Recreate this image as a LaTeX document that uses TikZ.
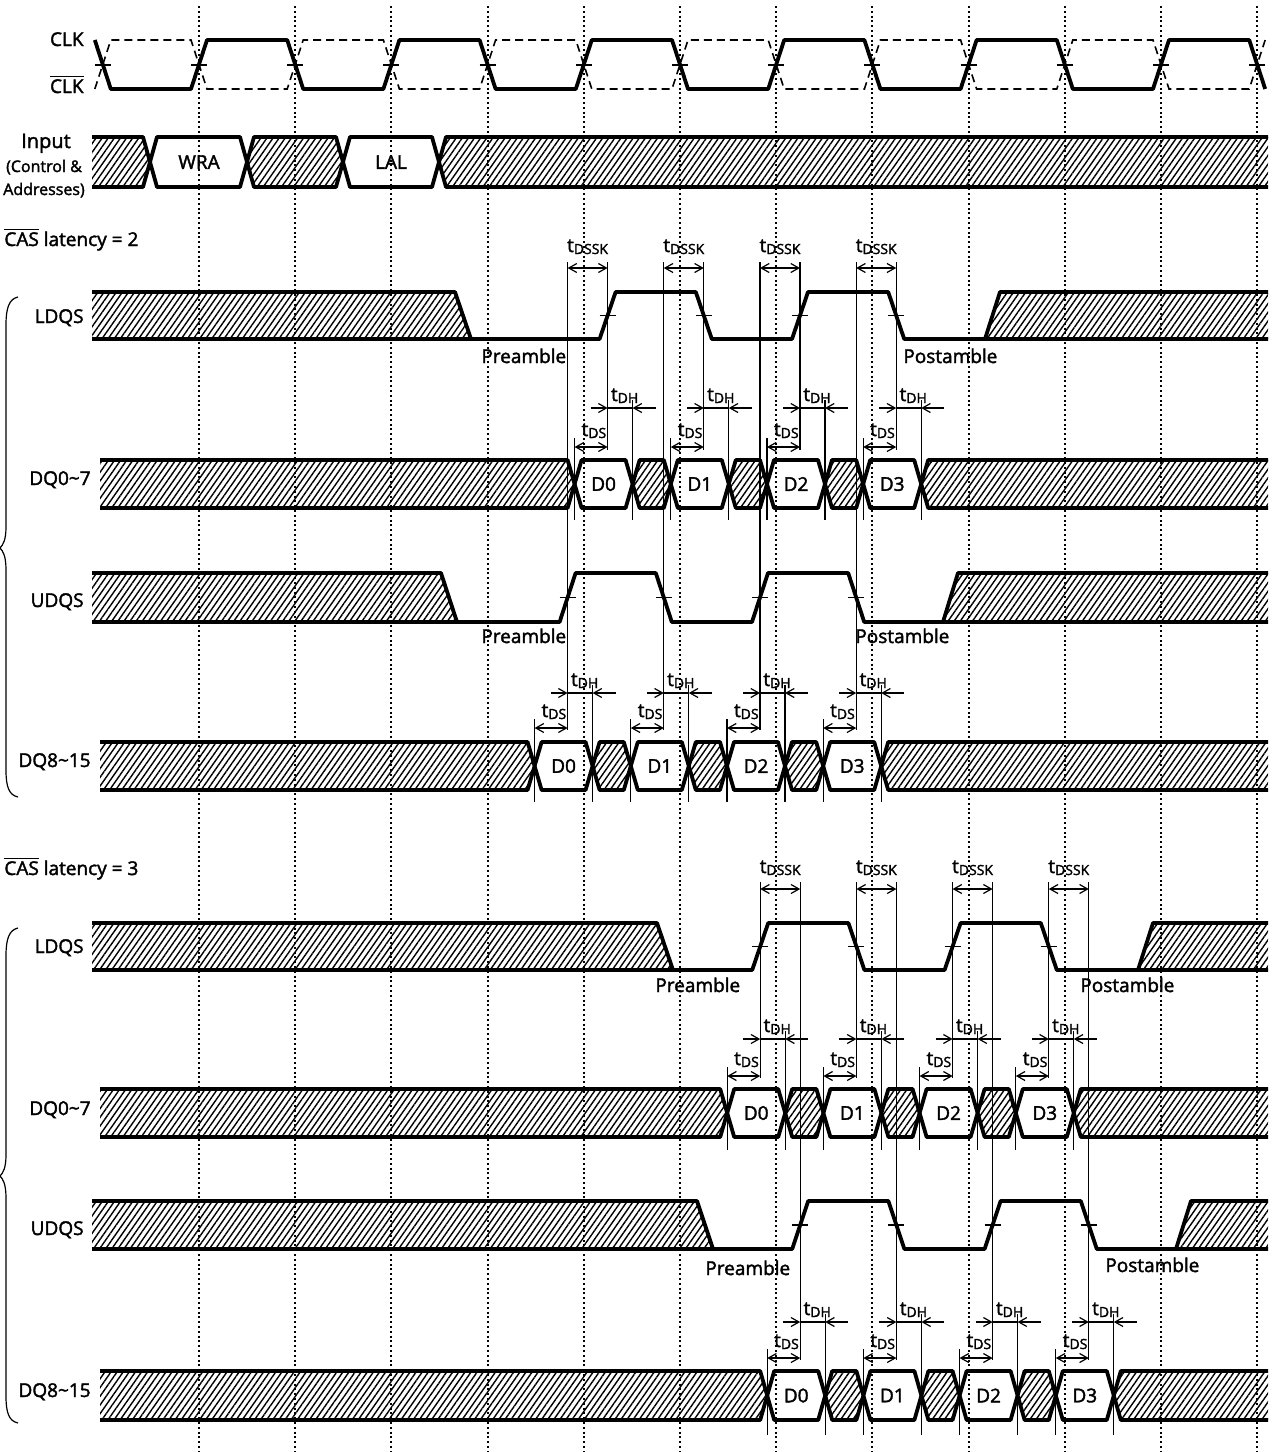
\documentclass[tikz,border=0pt]{standalone}
\usepackage{fontspec}
\setmainfont{Open Sans}[FakeBold=2]
\usetikzlibrary{arrows.meta,patterns.meta}

\newcommand\tsub[1]{t\raisebox{-1pt}{\fontsize{7}{7}\selectfont #1}}
\newcommand\ovl[1]{$\overline{\hbox{#1}}$}

\tikzset{
  sig/.style={line width=1.9pt, line join=round},
  hatch/.style={pattern={Lines[angle=55,distance=2.5pt,line width=0.7pt]}},
  grid line/.style={line width=1pt, dash pattern=on 1pt off 1.4pt},
  timing line/.style={line width=0.6pt},
  clk solid/.style={line width=1.9pt, line join=round},
  clk dashed/.style={line width=0.8pt, dash pattern=on 4pt off 2.5pt},
  clk tick/.style={line width=1pt},
  dqs tick/.style={line width=0.8pt},
  every node/.style={inner sep=0pt, font=\fontsize{9.5}{11}\selectfont},
}

% strobe: #1 top, #2 bottom, #3 end of leading hatch, #4 first edge, #5 start of trailing hatch
\newcommand\dqswave[5]{%
  \pgfmathsetmacro\ym{(#1+#2)/2}
  \fill[hatch] (92,#1) -- (#3,#1) -- ({#3+16},#2) -- (92,#2) -- cycle;
  \fill[hatch] (#5,#2) -- ({#5+15},#1) -- (1268,#1) -- (1268,#2) -- cycle;
  \draw[sig] (92,#1) -- (#3,#1) -- ({#3+16},#2);
  \draw[sig] (#5,#2) -- ({#5+15},#1) -- (1268,#1);
  \draw[sig] (92,#2) -- ({#4-8},#2) -- ({#4+8},#1) -- ({#4+88.2},#1) -- ({#4+104.2},#2)
    -- ({#4+184.4},#2) -- ({#4+200.4},#1) -- ({#4+280.6},#1) -- ({#4+296.6},#2) -- (1268,#2);
  \foreach \i in {0,...,3}
    \draw[dqs tick] ({#4+96.2*\i-8},\ym) -- ({#4+96.2*\i+8},\ym);
}

% data bus: #1 top, #2 bottom, #3 first strobe edge, #4 name
\newcommand\dqbus[4]{%
  \pgfmathsetmacro\ym{(#1+#2)/2}
  \fill[hatch] (100,#1) -- ({#3-40},#1) -- ({#3-33},\ym) -- ({#3-40},#2) -- (100,#2) -- cycle;
  \draw[sig] (100,#1) -- ({#3-40},#1) -- ({#3-33},\ym) -- ({#3-40},#2) -- (100,#2);
  \foreach \i in {0,...,3}{
    \pgfmathsetmacro\wa{#3+96.2*\i-33}
    \pgfmathsetmacro\wb{#3+96.2*\i+25}
    \draw[sig] (\wa,\ym) -- ({\wa+7},#1) -- ({\wb-7},#1) -- (\wb,\ym) -- ({\wb-7},#2) -- ({\wa+7},#2) -- cycle;
    \node (#4\i) at ({(\wa+\wb)/2},\ym) {D\i};
  }
  \foreach \i in {0,1,2}{
    \pgfmathsetmacro\wa{#3+96.2*\i+25}
    \pgfmathsetmacro\wb{#3+96.2*\i+63.2}
    \filldraw[sig,hatch] (\wa,\ym) -- ({\wa+7},#1) -- ({\wb-7},#1) -- (\wb,\ym) -- ({\wb-7},#2) -- ({\wa+7},#2) -- cycle;
  }
  \pgfmathsetmacro\wa{#3+313.6}
  \fill[hatch] (\wa,\ym) -- ({\wa+7},#1) -- (1268,#1) -- (1268,#2) -- ({\wa+7},#2) -- cycle;
  \draw[sig] (1268,#1) -- ({\wa+7},#1) -- (\wa,\ym) -- ({\wa+7},#2) -- (1268,#2);
}

% setup and hold: #1 strobe edge, #2 tDH y, #3 tDS y, #4 lower end, #5 name
\newcommand\dqtiming[5]{%
  \draw[timing line] ({#1-33},{#3-9}) -- ({#1-33},#4);
  \draw[timing line] ({#1+25},{#2-8}) -- ({#1+25},#4);
  \draw[timing line,<->] ({#1-33},#3) -- (#1,#3);
  \draw[timing line,->] ({#1-17},#2) -- (#1,#2);
  \draw[timing line] (#1,#2) -- ({#1+25},#2);
  \draw[timing line,->] ({#1+48},#2) -- ({#1+25},#2);
  \node[anchor=base west] (#5dh) at ({#1+3},{#2-7}) {\tsub{DH}};
  \node[anchor=base east] (#5ds) at ({#1-1},{#3-11}) {\tsub{DS}};
}

\begin{document}
\begin{tikzpicture}[x=0.5pt, y=-0.5pt, >={Straight Barb[length=4pt,width=4.5pt]}]
\useasboundingbox (0,0) rectangle (1272,1452);

% clock grid
\foreach \k in {0,...,11}
  \draw[grid line] ({199+96.2*\k},6) -- ({199+96.2*\k},1452);

% CLK and /CLK
\draw[clk dashed] (94.8,89) -- (110.8,40)
  foreach \k in {0,2,...,10}{ -- ({191+96.2*\k},40) -- ({207+96.2*\k},89) -- ({287.2+96.2*\k},89) -- ({303.2+96.2*\k},40) };
\draw[clk solid] (94.8,40) -- (110.8,89)
  foreach \k in {0,2,...,10}{ -- ({191+96.2*\k},89) -- ({207+96.2*\k},40) -- ({287.2+96.2*\k},40) -- ({303.2+96.2*\k},89) };
\foreach \k in {-1,...,11}
  \draw[clk tick] ({191+96.2*\k},65) -- ({207+96.2*\k},65);
\node[anchor=base east] (clk) at (84,46) {CLK};
\node[anchor=base east] (clkb) at (84,93) {\ovl{CLK}};

% command bus
\fill[hatch] (92,137) -- (143,137) -- (150,162) -- (143,187) -- (92,187) -- cycle;
\draw[sig] (92,137) -- (143,137) -- (150,162) -- (143,187) -- (92,187);
\draw[sig] (150,162) -- (157,137) -- (240,137) -- (247,162) -- (240,187) -- (157,187) -- cycle;
\filldraw[sig,hatch] (247,162) -- (254,137) -- (336,137) -- (343,162) -- (336,187) -- (254,187) -- cycle;
\draw[sig] (343,162) -- (350,137) -- (432,137) -- (439,162) -- (432,187) -- (350,187) -- cycle;
\fill[hatch] (439,162) -- (446,137) -- (1268,137) -- (1268,187) -- (446,187) -- cycle;
\draw[sig] (1268,137) -- (446,137) -- (439,162) -- (446,187) -- (1268,187);
\node (wra) at (199,162) {WRA};
\node (lal) at (391,162) {LAL};
\node[anchor=base] (inp) at (46,148) {\fontsize{10}{11}\selectfont Input};
\node[anchor=base] (inpc) at (44,172) {\fontsize{8}{9}\selectfont (Control \&};
\node[anchor=base] (inpa) at (44,195) {\fontsize{8}{9}\selectfont Addresses)};

% CAS latency = 2
\node[anchor=base west] (cl2) at (4,246) {\ovl{CAS} latency = 2};
\draw[timing line] (18,297) .. controls (9,299) and (6,308) .. (6,325) -- (6,527)
  .. controls (6,540) and (3,545) .. (0,548) .. controls (3,551) and (6,556) .. (6,570)
  -- (6,770) .. controls (6,787) and (9,795) .. (18,797);
\node[anchor=base east] (ldqs2) at (84,323) {LDQS};
\node[anchor=base east] (dqa2) at (91,485) {DQ0\textasciitilde 7};
\node[anchor=base east] (udqs2) at (84,607) {UDQS};
\node[anchor=base east] (dqb2) at (91,767) {DQ8\textasciitilde 15};

\dqswave{292}{339}{455}{607.6}{985}
\dqbus{460}{508}{607.6}{da}
\dqswave{573}{622}{441}{567.6}{943}
\dqbus{742}{790}{567.6}{db}

\foreach \i in {0,...,3}{
  \pgfmathsetmacro\eU{567.6+96.2*\i}
  \pgfmathsetmacro\eL{607.6+96.2*\i}
  \draw[timing line] (\eU,262) -- (\eU,730);
  \draw[timing line] (\eL,262) -- (\eL,450);
  \draw[timing line,<->] (\eU,268) -- (\eL,268);
  \node[anchor=base] (sk2\i) at ({(\eU+\eL)/2},252) {\tsub{DSSK}};
  \dqtiming{\eL}{408}{447}{520}{ta\i}
  \dqtiming{\eU}{693}{728}{802}{tb\i}
}
\node[anchor=base west] (pre2l) at (481,363) {Preamble};
\node[anchor=base west] (post2l) at (903,363) {Postamble};
\node[anchor=base west] (pre2u) at (481,643) {Preamble};
\node[anchor=base west] (post2u) at (855,643) {Postamble};

% CAS latency = 3
\node[anchor=base west] (cl3) at (4,875) {\ovl{CAS} latency = 3};
\draw[timing line] (18,928) .. controls (9,930) and (6,939) .. (6,956) -- (6,1155)
  .. controls (6,1168) and (3,1173) .. (0,1176) .. controls (3,1179) and (6,1184) .. (6,1198)
  -- (6,1396) .. controls (6,1413) and (9,1421) .. (18,1423);
\node[anchor=base east] (ldqs3) at (84,953) {LDQS};
\node[anchor=base east] (dqa3) at (91,1115) {DQ0\textasciitilde 7};
\node[anchor=base east] (udqs3) at (84,1235) {UDQS};
\node[anchor=base east] (dqb3) at (91,1397) {DQ8\textasciitilde 15};

\dqswave{923}{970}{657}{760.2}{1138}
\dqbus{1089}{1137}{760.2}{dc}
\dqswave{1201}{1249}{697}{800.2}{1176}
\dqbus{1371}{1420}{800.2}{dd}

\foreach \i in {0,...,3}{
  \pgfmathsetmacro\eL{760.2+96.2*\i}
  \pgfmathsetmacro\eU{800.2+96.2*\i}
  \draw[timing line] (\eL,882) -- (\eL,1078);
  \draw[timing line] (\eU,882) -- (\eU,1360);
  \draw[timing line,<->] (\eL,889) -- (\eU,889);
  \node[anchor=base] (sk3\i) at ({(\eU+\eL)/2},873) {\tsub{DSSK}};
  \dqtiming{\eL}{1039}{1076}{1150}{tc\i}
  \dqtiming{\eU}{1322}{1358}{1435}{td\i}
}
\node[anchor=base west] (pre3l) at (655,992) {Preamble};
\node[anchor=base west] (post3l) at (1080,992) {Postamble};
\node[anchor=base west] (pre3u) at (705,1275) {Preamble};
\node[anchor=base west] (post3u) at (1105,1272) {Postamble};
\end{tikzpicture}
\end{document}
